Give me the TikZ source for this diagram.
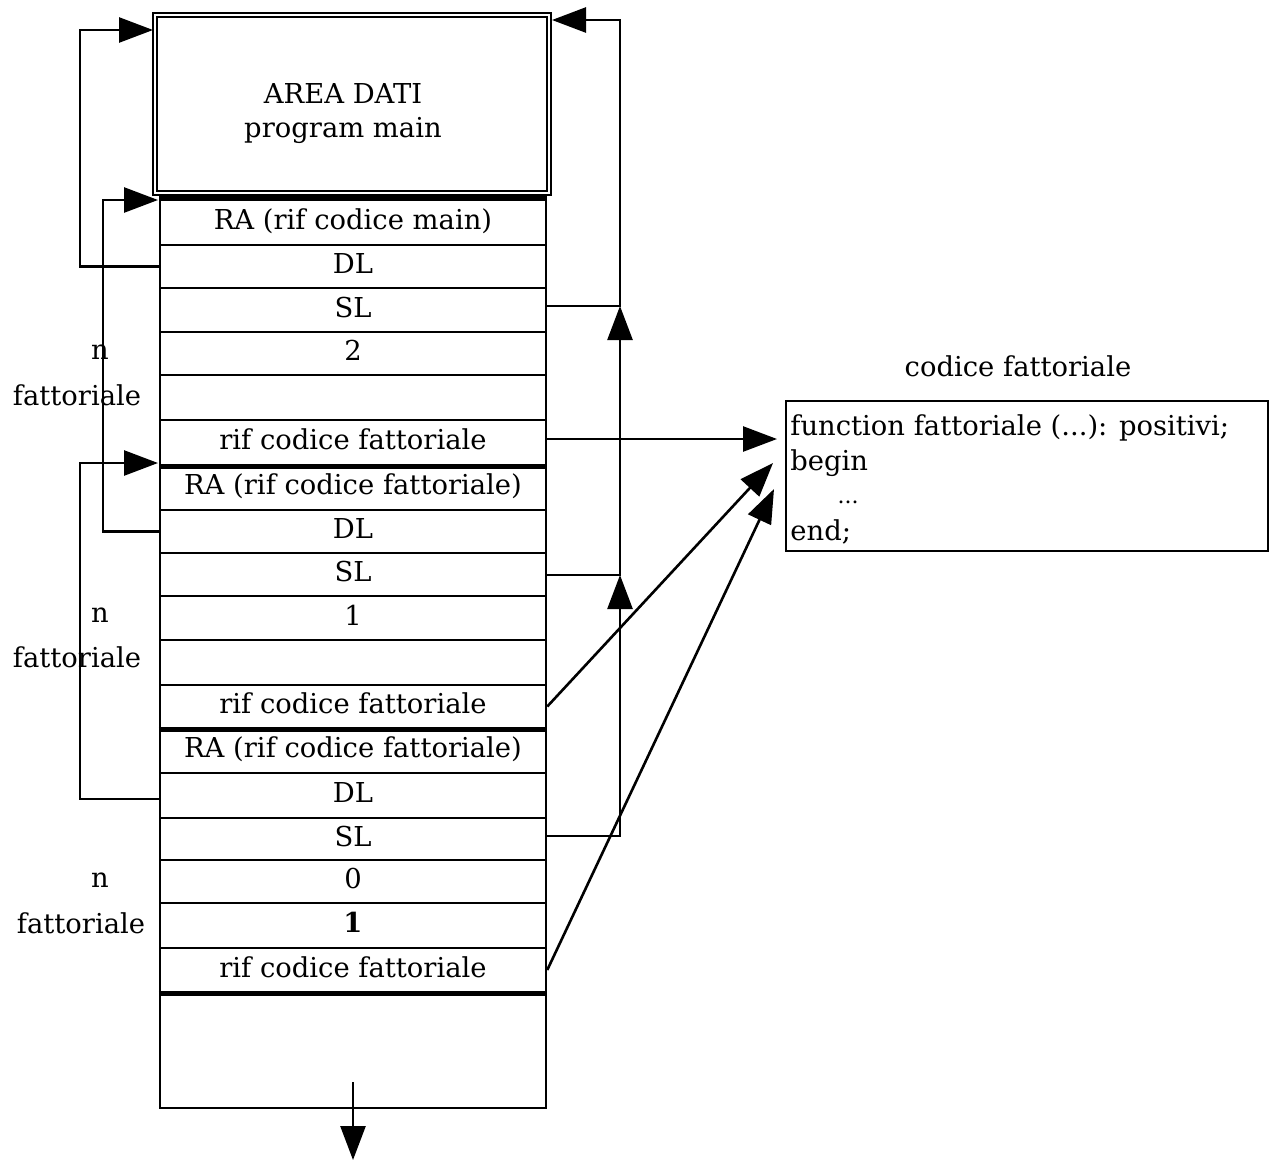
\documentclass[tikz,border=0pt]{standalone}
\usepackage{fontspec}
\setmainfont{DejaVu Serif}
\usetikzlibrary{arrows.meta}
\begin{document}
\begin{tikzpicture}[x=0.5pt,y=-0.5pt,
  font=\fontsize{13.7}{17.5}\selectfont,
  row/.style={draw, line width=1.25pt, minimum width=193pt, inner sep=0pt, text height=10pt, text depth=3pt},
  sepline/.style={line width=2.4pt},
  link/.style={line width=1.3pt},
  arr/.style={link, -{Triangle[length=17pt,width=12.5pt]}},
  lbl/.style={inner sep=0pt, text height=10pt, text depth=3pt}]
\useasboundingbox (0,0) rectangle (1273,1162);

% data area of main
\node[draw, double, double distance=1.4pt, line width=0.85pt, minimum width=197pt, minimum height=89pt, inner sep=0pt] (area) at (352,104) {};
\node[align=center, inner sep=0pt] (areatxt) at (343,114) {AREA DATI\\[-0.5pt]program main};

% stack rows
\foreach \n/\t/\b/\txt in {
  1/200/245/{RA (rif codice main)},
  2/245/288/{DL},
  3/288/332/{SL},
  4/332/375/{2},
  5/375/420/{},
  6/420/465/{rif codice fattoriale},
  7/465/510/{RA (rif codice fattoriale)},
  8/510/553/{DL},
  9/553/596/{SL},
  10/596/640/{1},
  11/640/685/{},
  12/685/728/{rif codice fattoriale},
  13/728/773/{RA (rif codice fattoriale)},
  14/773/818/{DL},
  15/818/860/{SL},
  16/860/903/{0},
  17/903/948/{\bfseries 1},
  18/948/992/{rif codice fattoriale},
  19/992/1108/{}}
{
  \node[row, minimum height={(\b-\t)*0.5pt}] (r\n) at (353,{(\t+\b)/2}) {\txt};
}

% thick separators between frames
\draw[sepline] (r1.north west) -- (r1.north east);
\draw[sepline] (r6.south west) -- (r6.south east);
\draw[sepline] (r12.south west) -- (r12.south east);
\draw[sepline] (r18.south west) -- (r18.south east);

% left labels
\node[lbl] (n1) at (100,352) {n};
\node[lbl] (f1) at (77,398) {fattoriale};
\node[lbl] (n2) at (100,615) {n};
\node[lbl] (f2) at (77,660) {fattoriale};
\node[lbl] (n3) at (100,880) {n};
\node[lbl] (f3) at (81,926) {fattoriale};

% dynamic links (DL)
\coordinate (dl0) at (153,30);
\draw[arr] (r2.west) -- (80,266.5) -- (80,30) -- (dl0);
\coordinate (dl1) at (158,200);
\draw[arr] (r8.west) -- (103,531.5) -- (103,200) -- (dl1);
\coordinate (dl2) at (158,463);
\draw[arr] (r14.west |- 0,799) -- (80,799) -- (80,463) -- (dl2);

% static links (SL)
\coordinate (j1) at (620,306);
\coordinate (j2) at (620,575);
\coordinate (k3) at (620,836);
\coordinate (sl0) at (552,20);
\draw[arr] (r3.east |- j1) -- (j1) -- (620,20) -- (sl0);
\draw[arr] (r9.east |- j2) -- (j2) -- (j1);
\draw[arr] (r15.east |- k3) -- (k3) -- (j2);

% code of fattoriale
\node[draw, line width=1.25pt, minimum width=241pt, minimum height=75pt, inner sep=0pt] (code) at (1027,476) {};
\node[lbl] (ctitle) at (1018,369) {codice fattoriale};
\node[lbl, anchor=west] (cl1) at (790,428) {function fattoriale (...): positivi;};
\node[lbl, anchor=west] (cl2) at (790,463) {begin};
\node[inner sep=0pt, font=\fontsize{11}{11}\selectfont] (cl3) at (848,502) {...};
\node[lbl, anchor=west] (cl4) at (790,533) {end;};

% references to code
\coordinate (ca) at (777,439);
\coordinate (cb) at (773,463);
\coordinate (cc) at (774,489);
\draw[arr] (r6.east |- ca) -- (ca);
\draw[arr] (r12.east) -- (cb);
\draw[arr] (r18.east) -- (cc);

% stack growth
\draw[arr] ([yshift=-16pt]r19.center) -- ++(0,78);
\end{tikzpicture}
\end{document}
